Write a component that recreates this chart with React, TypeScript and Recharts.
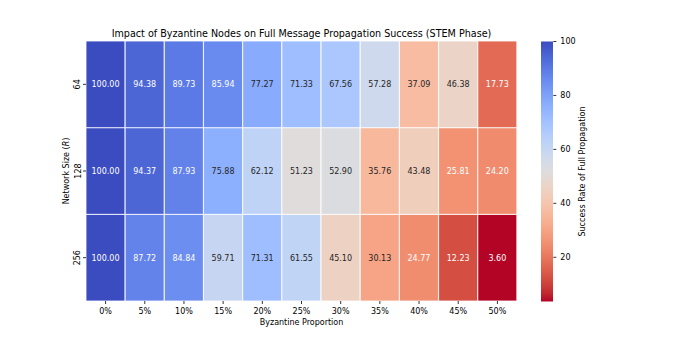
import React from 'react';
import { BarChart, Bar, XAxis, YAxis, Cell, LabelList, Customized } from 'recharts';

const proportions = ['0%', '5%', '10%', '15%', '20%', '25%', '30%', '35%', '40%', '45%', '50%'];
const networkSizes = ['64', '128', '256'];
const success64 = [100.0, 94.38, 89.73, 85.94, 77.27, 71.33, 67.56, 57.28, 37.09, 46.38, 17.73];
const success128 = [100.0, 94.37, 87.93, 75.88, 62.12, 51.23, 52.9, 35.76, 43.48, 25.81, 24.2];
const success256 = [100.0, 87.72, 84.84, 59.71, 71.31, 61.55, 45.1, 30.13, 24.77, 12.23, 3.6];
const colorbarTicks = [20, 40, 60, 80, 100];

const TITLE = 'Impact of Byzantine Nodes on Full Message Propagation Success (STEM Phase)';
const FONT = '"DejaVu Sans", sans-serif';

const allValues = [...success64, ...success128, ...success256];
const VMIN = Math.min(...allValues);
const VMAX = Math.max(...allValues);

// Moreland cool-warm diverging map (33 control points)
const COOLWARM: number[][] = [
  [59, 76, 192], [68, 90, 204], [77, 104, 215], [87, 117, 225], [98, 130, 234],
  [108, 142, 241], [119, 154, 247], [130, 165, 251], [141, 176, 254], [152, 185, 255],
  [163, 194, 255], [174, 201, 253], [184, 208, 249], [194, 213, 244], [204, 217, 238],
  [213, 219, 230], [221, 221, 221], [229, 216, 209], [236, 211, 197], [241, 204, 185],
  [245, 196, 173], [247, 187, 160], [247, 177, 148], [247, 166, 135], [244, 154, 123],
  [241, 141, 111], [236, 127, 99], [229, 112, 88], [222, 96, 77], [213, 80, 66],
  [203, 62, 56], [192, 40, 47], [180, 4, 38],
];

function coolwarmRGB(t: number): number[] {
  const tt = Math.max(0, Math.min(1, t));
  const pos = tt * (COOLWARM.length - 1);
  const i = Math.min(COOLWARM.length - 2, Math.floor(pos));
  const f = pos - i;
  const a = COOLWARM[i];
  const b = COOLWARM[i + 1];
  return [0, 1, 2].map((k) => a[k] + (b[k] - a[k]) * f);
}
const rgbStr = (c: number[]) => `rgb(${Math.round(c[0])},${Math.round(c[1])},${Math.round(c[2])})`;
// coolwarm_r : high values blue
const valueRGB = (v: number) => coolwarmRGB(1 - (v - VMIN) / (VMAX - VMIN));
const cellColor = (v: number) => rgbStr(valueRGB(v));
function textColor(v: number) {
  const c = valueRGB(v).map((x) => {
    const s = x / 255;
    return s <= 0.03928 ? s / 12.92 : Math.pow((s + 0.055) / 1.055, 2.4);
  });
  const lum = 0.2126 * c[0] + 0.7152 * c[1] + 0.0722 * c[2];
  return lum > 0.408 ? '#262626' : '#ffffff';
}

const rowsBottomUp = [
  { key: 'r256', values: success256 },
  { key: 'r128', values: success128 },
  { key: 'r64', values: success64 },
];

const data = proportions.map((p, i) => ({
  p,
  r256: 1,
  r128: 1,
  r64: 1,
  v256: success256[i],
  v128: success128[i],
  v64: success64[i],
}));

const cbData = [{ name: 'cb', range: [VMIN, VMAX] }];

const YTick = (props: any) => {
  const { x, y, payload } = props;
  const idx = Math.floor(networkSizes.length - payload.value);
  return (
    <text x={x} y={y} transform={`rotate(-90, ${x}, ${y})`} textAnchor="middle" fontSize={8} fontFamily={FONT} fill="#000">
      {networkSizes[idx]}
    </text>
  );
};

const makeLabel = (vals: number[]) => (props: any) => {
  const { x, y, width, height, index } = props;
  const v = vals[index];
  return (
    <text
      x={x + width / 2}
      y={y + height / 2}
      dy="0.36em"
      textAnchor="middle"
      fontSize={8}
      fontFamily={FONT}
      fill={textColor(v)}
    >
      {v.toFixed(2)}
    </text>
  );
};

export default function App() {
  return (
    <div style={{ position: 'absolute', left: 0, top: 0, width: 690, height: 345, background: '#fff' }}>
      <div style={{ position: 'absolute', left: 0, top: 0 }}>
        <BarChart
          width={690}
          height={345}
          data={data}
          margin={{ top: 41, right: 173, bottom: 14, left: 0 }}
          barCategoryGap={0}
          barGap={0}
        >
          <XAxis
            dataKey="p"
            height={30}
            axisLine={false}
            tickLine={{ stroke: '#000', strokeWidth: 0.8 }}
            tickSize={3}
            tickMargin={4}
            tick={{ fontSize: 8, fontFamily: FONT, fill: '#000' }}
            interval={0}
            label={{
              content: (p: any) => {
                const vb = p.viewBox;
                return (
                  <text x={vb.x + vb.width / 2} y={vb.y + 23.6} textAnchor="middle" fontSize={8} fontFamily={FONT} fill="#000">
                    Byzantine Proportion
                  </text>
                );
              },
            }}
          />
          <YAxis
            type="number"
            domain={[0, networkSizes.length]}
            ticks={[0.5, 1.5, 2.5]}
            width={86}
            axisLine={false}
            tickLine={{ stroke: '#000', strokeWidth: 0.8 }}
            tickSize={3}
            tickMargin={2.5}
            tick={<YTick />}
            label={{
              content: (p: any) => {
                const vb = p.viewBox;
                const cx = vb.x + 68.6;
                const cy = vb.y + vb.height / 2;
                return (
                  <text x={cx} y={cy} transform={`rotate(-90, ${cx}, ${cy})`} textAnchor="middle" fontSize={8} fontFamily={FONT} fill="#000">
                    Network Size (<tspan fontStyle="italic">R</tspan>)
                  </text>
                );
              },
            }}
          />
          {rowsBottomUp.map((row) => (
            <Bar key={row.key} dataKey={row.key} stackId="a" isAnimationActive={false} stroke="#ffffff" strokeWidth={0.8}>
              {row.values.map((v, i) => (
                <Cell key={i} fill={cellColor(v)} />
              ))}
              <LabelList dataKey={row.key} content={makeLabel(row.values)} />
            </Bar>
          ))}
          <Customized
            component={() => (
              <text x={301.5} y={36.6} textAnchor="middle" fontSize={9.6} fontFamily={FONT} fill="#000">
                {TITLE}
              </text>
            )}
          />
        </BarChart>
      </div>
      <div style={{ position: 'absolute', left: 0, top: 0 }}>
        <BarChart
          width={690}
          height={345}
          data={cbData}
          margin={{ top: 41.5, right: 76.7, bottom: 43.5, left: 541 }}
          barCategoryGap={0}
        >
          <defs>
            <linearGradient id="cbGrad" x1="0" y1="0" x2="0" y2="1">
              {COOLWARM.map((c, i) => (
                <stop key={i} offset={i / (COOLWARM.length - 1)} stopColor={rgbStr(c)} />
              ))}
            </linearGradient>
          </defs>
          <XAxis dataKey="name" hide />
          <YAxis
            type="number"
            orientation="right"
            domain={[VMIN, VMAX]}
            ticks={colorbarTicks}
            width={60}
            axisLine={false}
            tickLine={{ stroke: '#000', strokeWidth: 0.8 }}
            tickSize={3}
            tickMargin={4}
            tick={{ fontSize: 8, fontFamily: FONT, fill: '#000' }}
            label={{
              content: (p: any) => {
                const vb = p.viewBox;
                const cx = 584.6;
                const cy = vb.y + vb.height / 2;
                return (
                  <text x={cx} y={cy} transform={`rotate(-90, ${cx}, ${cy})`} textAnchor="middle" fontSize={8} fontFamily={FONT} fill="#000">
                    Success Rate of Full Propagation
                  </text>
                );
              },
            }}
          />
          <Bar dataKey="range" fill="url(#cbGrad)" isAnimationActive={false} />
        </BarChart>
      </div>
    </div>
  );
}
